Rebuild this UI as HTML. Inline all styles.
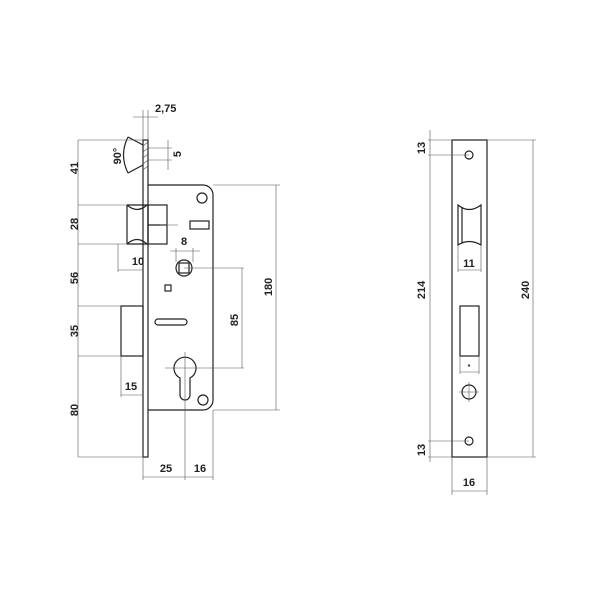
<!DOCTYPE html><html><head><style>body{margin:0;background:#fff}svg{display:block}text{font-family:"Liberation Sans",sans-serif;font-weight:bold;font-size:11px;fill:#222}</style></head><body>
<svg width="600" height="600" viewBox="0 0 600 600" xmlns="http://www.w3.org/2000/svg">
<g fill="none" stroke="#222" stroke-width="1.2">
<rect x="143" y="140" width="5" height="317"/>
<path d="M148 185 H203 A10 10 0 0 1 213 195 V400 A10 10 0 0 1 203 410 H148"/>
<path d="M127 205 H148 V244 H127"/>
<path d="M127 205 Q137 214 147 205 M127 244 Q137 235 147 244"/>
<path d="M127 205 V244"/>
<rect x="148" y="205" width="19" height="39"/>
<line x1="148" y1="225" x2="167" y2="225"/>
<rect x="121" y="306" width="22" height="50"/>
<circle cx="184" cy="268" r="8"/>
<rect x="179" y="263" width="10" height="10"/>
<rect x="165" y="285" width="6" height="6"/>
<rect x="190" y="221" width="19" height="8"/>
<rect x="155" y="319" width="32" height="6" rx="3"/>
<path d="M180 378 A11 11 0 1 1 190 378 V395 A5 5 0 0 1 180 395 Z"/>
<circle cx="202" cy="198" r="5"/><circle cx="203" cy="400" r="5"/>
<path d="M128 137 Q119 155 128 173" />
<path d="M128 137 L143 145 M128 173 L143 165"/>
</g>
<g stroke="#555" stroke-width="0.6" fill="none">
<path d="M143 146 l5 -4 M143 152 l5 -4 M143 158 l5 -4 M143 164 l5 -4 M143 170 l5 -4"/>
<line x1="78" y1="140" x2="78" y2="457"/>
<line x1="78" y1="140" x2="143" y2="140"/><line x1="78" y1="205" x2="127" y2="205"/>
<line x1="78" y1="244" x2="127" y2="244"/><line x1="78" y1="306" x2="121" y2="306"/>
<line x1="78" y1="356" x2="121" y2="356"/><line x1="78" y1="457" x2="143" y2="457"/>
<line x1="143" y1="110" x2="143" y2="140"/><line x1="148" y1="110" x2="148" y2="140"/>
<line x1="133" y1="117" x2="158" y2="117"/>
<line x1="148" y1="148" x2="172" y2="148"/><line x1="148" y1="160" x2="172" y2="160"/>
<line x1="168" y1="140" x2="168" y2="170"/>
<line x1="118" y1="244" x2="118" y2="272"/><line x1="118" y1="270" x2="143" y2="270"/>
<line x1="121" y1="356" x2="121" y2="397"/><line x1="121" y1="395" x2="143" y2="395"/>
<line x1="176" y1="248" x2="176" y2="262"/><line x1="193" y1="248" x2="193" y2="262"/>
<line x1="170" y1="251" x2="200" y2="251"/>
<line x1="160" y1="225" x2="178" y2="225"/>
<line x1="184" y1="268" x2="244" y2="268"/><line x1="165" y1="368" x2="244" y2="368"/>
<line x1="242" y1="268" x2="242" y2="368"/>
<line x1="213" y1="185" x2="280" y2="185"/><line x1="213" y1="410" x2="280" y2="410"/>
<line x1="276" y1="185" x2="276" y2="410"/>
<line x1="185" y1="352" x2="185" y2="480"/><line x1="213" y1="410" x2="213" y2="480"/>
<line x1="143" y1="457" x2="143" y2="480"/>
<line x1="143" y1="477" x2="213" y2="477"/>
</g>
<text x="155" y="112">2,75</text>
<text transform="translate(78,168) rotate(-90)" text-anchor="middle">41</text>
<text transform="translate(78,224) rotate(-90)" text-anchor="middle">28</text>
<text transform="translate(78,278) rotate(-90)" text-anchor="middle">56</text>
<text transform="translate(78,331) rotate(-90)" text-anchor="middle">35</text>
<text transform="translate(78,410) rotate(-90)" text-anchor="middle">80</text>
<text transform="translate(121,156) rotate(-90)" text-anchor="middle">90°</text>
<text transform="translate(181,154) rotate(-90)" text-anchor="middle">5</text>
<text x="184" y="245" text-anchor="middle">8</text>
<text x="138" y="265" text-anchor="middle">10</text>
<text x="131" y="390" text-anchor="middle">15</text>
<text transform="translate(238,320) rotate(-90)" text-anchor="middle">85</text>
<text transform="translate(272,287) rotate(-90)" text-anchor="middle">180</text>
<text x="166" y="472" text-anchor="middle">25</text>
<text x="200" y="472" text-anchor="middle">16</text>
<g fill="none" stroke="#222" stroke-width="1.2">
<rect x="452" y="140" width="35" height="317"/>
<path d="M458 205 Q469 214 481 205 V245 Q469 238 458 245 Z"/>
<line x1="462" y1="208" x2="462" y2="243"/>
<rect x="460" y="306" width="19" height="50"/>
<circle cx="469" cy="392" r="7"/>
<circle cx="469" cy="155" r="4"/><circle cx="469" cy="441" r="4"/>
</g>
<g stroke="#555" stroke-width="0.6" fill="none">
<line x1="430" y1="130" x2="430" y2="462"/>
<line x1="428" y1="140" x2="452" y2="140"/><line x1="428" y1="155" x2="469" y2="155"/>
<line x1="428" y1="441" x2="469" y2="441"/><line x1="428" y1="457" x2="452" y2="457"/>
<line x1="487" y1="140" x2="536" y2="140"/><line x1="487" y1="457" x2="536" y2="457"/>
<line x1="533" y1="140" x2="533" y2="457"/>
<line x1="458" y1="245" x2="458" y2="272"/><line x1="481" y1="245" x2="481" y2="272"/>
<line x1="458" y1="270" x2="481" y2="270"/>
<line x1="460" y1="356" x2="460" y2="374"/><line x1="479" y1="356" x2="479" y2="374"/>
<line x1="460" y1="372" x2="479" y2="372"/>
<line x1="459" y1="392" x2="479" y2="392"/><line x1="469" y1="382" x2="469" y2="402"/>
<line x1="452" y1="457" x2="452" y2="495"/><line x1="487" y1="457" x2="487" y2="495"/>
<line x1="452" y1="491" x2="487" y2="491"/>
</g>
<text transform="translate(425,148) rotate(-90)" text-anchor="middle">13</text>
<text transform="translate(425,290) rotate(-90)" text-anchor="middle">214</text>
<text transform="translate(425,450) rotate(-90)" text-anchor="middle">13</text>
<text transform="translate(529,290) rotate(-90)" text-anchor="middle">240</text>
<text x="469" y="267" text-anchor="middle">11</text>
<text x="469" y="369" text-anchor="middle" style="font-size:7px">*</text>
<text x="469" y="486" text-anchor="middle">16</text>
</svg></body></html>
